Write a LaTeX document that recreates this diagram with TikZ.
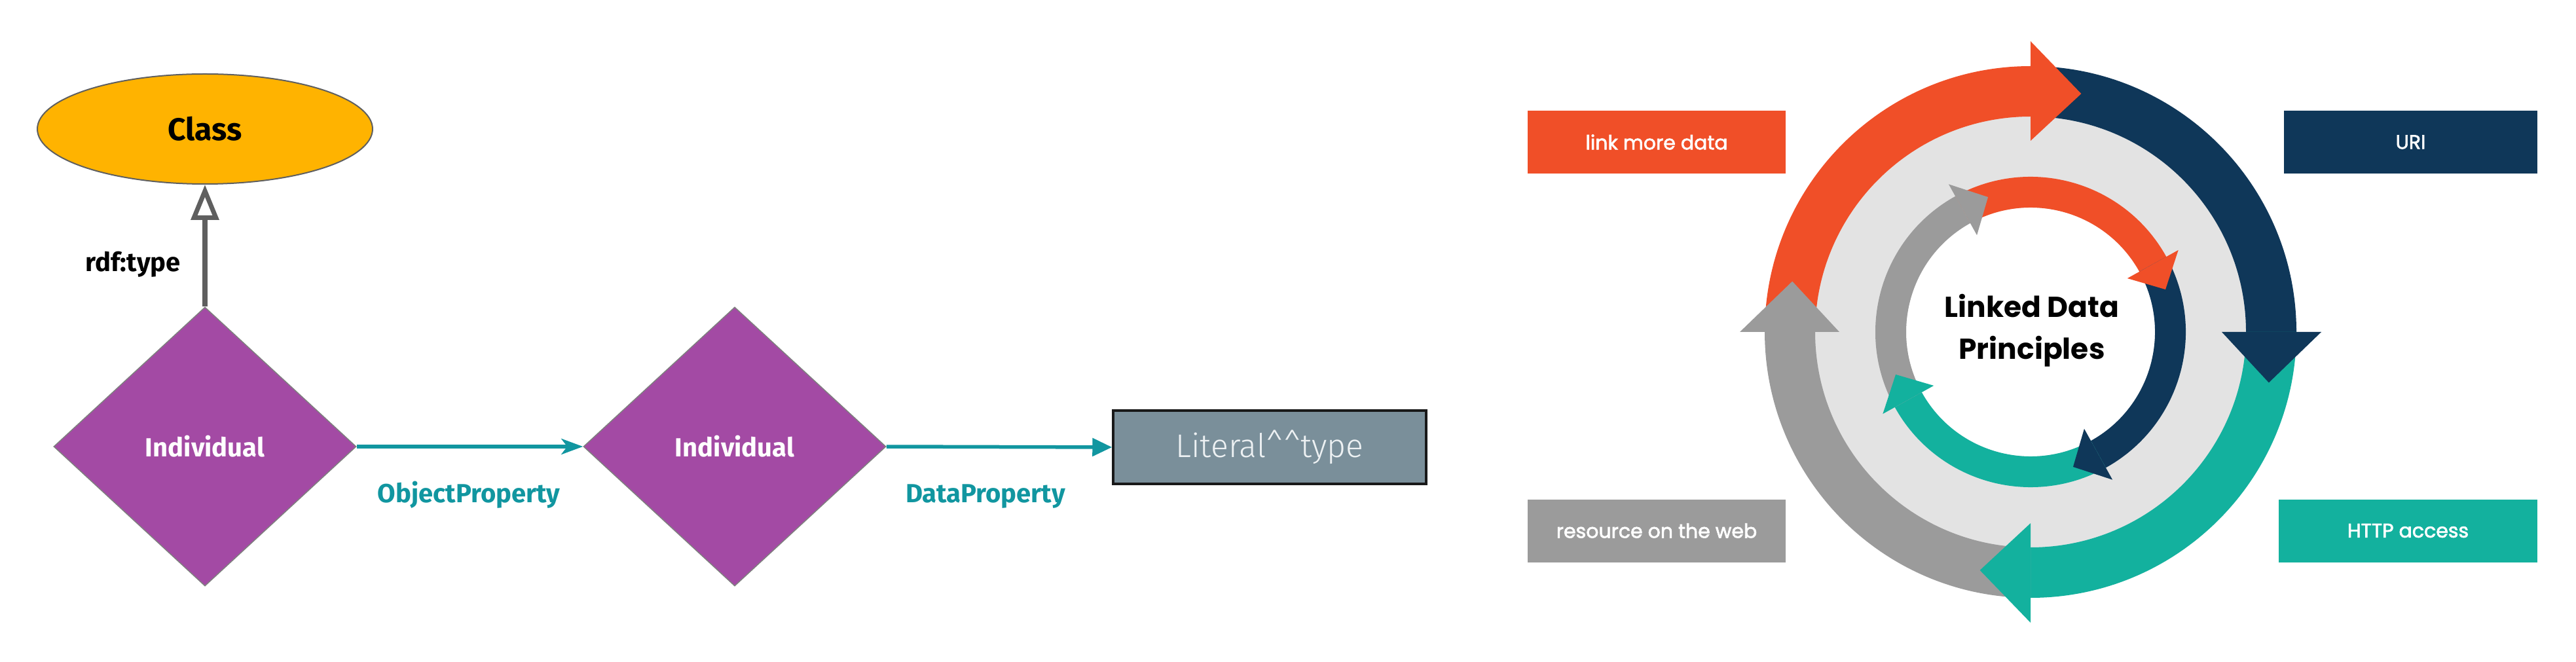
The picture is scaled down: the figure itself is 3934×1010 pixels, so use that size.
\documentclass[tikz,border=0pt]{standalone}
\usepackage{fontspec}
\setmainfont{Fira Sans}
\newfontfamily\firalight{Fira Sans Light}
\newfontfamily\pop{Poppins}
\newfontfamily\popm{Poppins}[FakeBold=2.2]
\usetikzlibrary{arrows.meta,shapes.geometric}
\definecolor{clsyellow}{HTML}{FFB300}
\definecolor{indpurple}{HTML}{A34AA4}
\definecolor{propteal}{HTML}{1196A0}
\definecolor{typegray}{HTML}{5F5F5F}
\definecolor{litfill}{HTML}{7A8F9A}
\definecolor{littext}{HTML}{EDF1F3}
\definecolor{cOrange}{HTML}{F04F28}
\definecolor{cNavy}{HTML}{0F3759}
\definecolor{cTeal}{HTML}{13B19E}
\definecolor{cGray}{HTML}{9B9B9B}
\definecolor{cLight}{HTML}{E3E3E3}
\newcommand{\cbody}[5]{\fill[#1] (#2:#4) arc[start angle=#2,end angle=#3,radius=#4] -- (#3:#5) arc[start angle=#3,end angle=#2,radius=#5] -- cycle;}
\newcommand{\chead}[6]{\fill[#1] (#2:#3) -- (#2:#4) -- (#5:#6) -- cycle;}
\begin{document}
\begin{tikzpicture}[x=1pt,y=1pt,
  indiv/.style={diamond, fill=indpurple, draw=typegray!80, line width=1.5pt, minimum width=462pt, minimum height=426pt, inner sep=0pt, text=white, font=\fontsize{40}{46}\selectfont\bfseries},
  proplabel/.style={text=propteal, font=\fontsize{40}{46}\selectfont\bfseries, anchor=base},
  propline/.style={draw=propteal, line width=5.5pt},
  labelbox/.style={rectangle, minimum height=96pt, inner sep=0pt, text=white, font=\popm\fontsize{30}{36}\selectfont}
]
\useasboundingbox (0,0) rectangle (3934,1010);
\fill[white] (0,0) rectangle (3934,1010);

% ---------- left: ontology diagram ----------
\node[ellipse, fill=clsyellow, draw=typegray, line width=2pt, minimum width=512pt, minimum height=168pt, inner sep=0pt,
      font=\fontsize{48}{54}\selectfont\bfseries] (class) at (313,813) {Class};
\node[indiv] (ind1) at (313,328) {Individual};
\node[indiv] (ind2) at (1122,328) {Individual};
\node[rectangle, fill=litfill, draw=black!90, line width=3.5pt, minimum width=478pt, minimum height=112pt, inner sep=0pt,
      text=littext, font=\firalight\fontsize{50}{56}\selectfont] (lit) at (1939,327) {Literal\textasciicircum\textasciicircum type};

\draw[draw=typegray, line width=8pt, -{Triangle[open, length=54pt, width=42pt, line width=7pt]}] (ind1.north) -- (class.south);
\node[anchor=base, font=\fontsize{40}{46}\selectfont\bfseries] (rdft) at (203,595) {rdf:type};

\draw[propline, -{Stealth[length=33pt, width=24pt, inset=9pt]}] (ind1.east) -- (ind2.west);
\draw[propline, -{Triangle[length=30pt, width=27pt]}] (ind2.east) -- (lit.west);
\node[proplabel] (objp) at (716,243) {ObjectProperty};
\node[proplabel] (datap) at (1505,243) {DataProperty};

% ---------- right: linked data principles cycle ----------
\begin{scope}[shift={(3101,503)}]
  \fill[cLight] (0,0) circle[radius=360];
  \fill[white] (0,0) circle[radius=190];
  % outer ring bodies
  \cbody{cOrange}{180}{90}{329}{406}
  \cbody{cNavy}{90}{0}{329}{406}
  \cbody{cTeal}{0}{-90}{329}{406}
  \cbody{cGray}{-90}{-180}{329}{406}
  % outer ring heads
  \chead{cOrange}{90}{292}{444}{78}{372}
  \chead{cNavy}{0}{292}{444}{-12}{372}
  \chead{cTeal}{-90}{292}{444}{-102}{372}
  \chead{cGray}{180}{292}{444}{168}{372}
  % inner ring bodies
  \cbody{cOrange}{119}{29}{190}{237}
  \cbody{cNavy}{29}{-61}{190}{237}
  \cbody{cTeal}{-61}{-151}{190}{237}
  \cbody{cGray}{-151}{-241}{190}{237}
  % inner ring heads
  \chead{cOrange}{29}{169}{258}{17.5}{216}
  \chead{cNavy}{-61}{169}{258}{-72.5}{216}
  \chead{cTeal}{-151}{169}{258}{-162.5}{216}
  \chead{cGray}{119}{169}{258}{107.5}{216}
\end{scope}
\node[align=center, font=\pop\bfseries\fontsize{44}{64}\selectfont] (ldp) at (3103,505) {Linked Data\\Principles};

\node[labelbox, fill=cOrange, minimum width=394pt] (lmd) at (2530,793) {link more data};
\node[labelbox, fill=cNavy, minimum width=387pt] (uri) at (3681.5,793) {URI};
\node[labelbox, fill=cGray, minimum width=394pt] (res) at (2530,199.5) {resource on the web};
\node[labelbox, fill=cTeal, minimum width=395pt] (http) at (3677.5,199.5) {HTTP access};
\end{tikzpicture}
\end{document}
